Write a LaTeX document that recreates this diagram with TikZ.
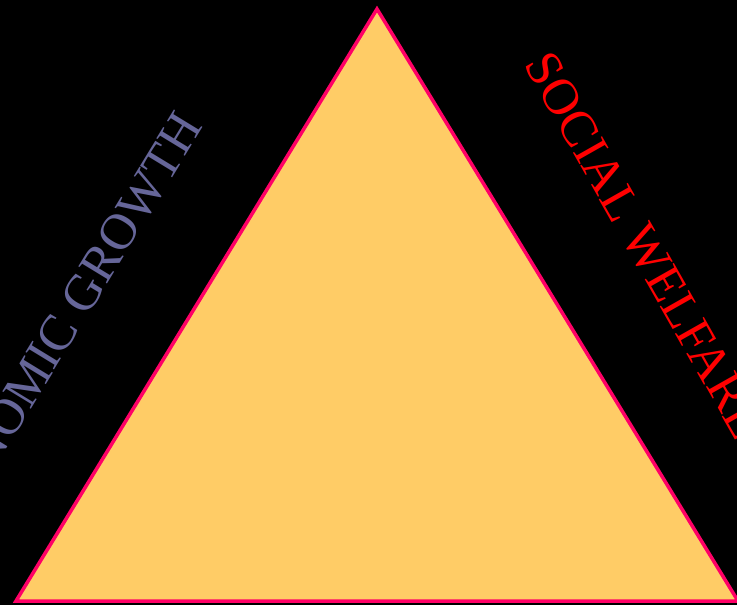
\documentclass[tikz,border=0pt]{standalone}
\usepackage{fontspec}
\setmainfont{Liberation Serif}
\definecolor{pyramidfill}{HTML}{FFCC66}
\definecolor{pyramidline}{HTML}{FF0066}
\definecolor{growthblue}{HTML}{666699}
\definecolor{welfarered}{HTML}{FF0000}

\begin{document}
\begin{tikzpicture}[
    x = 1pt, y = -1pt,
    pyramid/.style={
      draw = pyramidline,
      fill = pyramidfill,
      line width = 3.5pt,
      line join = miter,
    },
    sidelabel/.style={
      font = \fontsize{51}{61}\selectfont,
      inner sep = 0pt,
    },
  ]
  \fill[black] (0,0) rectangle (737,605);
  \useasboundingbox (0,0) rectangle (737,605);

  \coordinate (apex) at (377,9);
  \coordinate (left) at (16,601);
  \coordinate (right) at (738,601);
  \draw[pyramid] (apex) -- (left) -- (right) -- cycle;

  \node[sidelabel, text = growthblue, rotate = 58.6, anchor = base east]
    (growth) at (203.8,125.9) {ECONOMIC GROWTH};
  \node[sidelabel, text = welfarered, rotate = -60.5, anchor = base west]
    (welfare) at (523.4,64.7) {SOCIAL WELFARE};
\end{tikzpicture}
\end{document}
